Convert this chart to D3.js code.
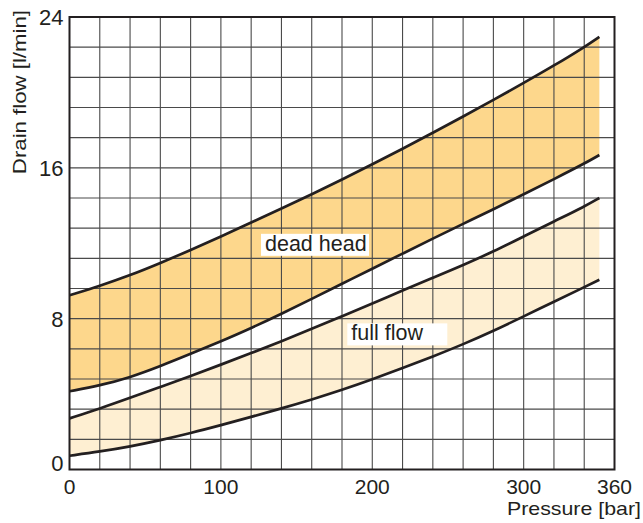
<!doctype html>
<html lang="en">
<head>
<meta charset="utf-8">
<title>Drain flow</title>
<script src="https://d3js.org/d3.v7.min.js"></script>
<style>
  body { margin: 0; background: #fff; }
  svg { display: block; }
  text { font-family: "Liberation Sans", Arial, sans-serif; fill: #231f20; }
</style>
</head>
<body>
<svg id="chart" width="643" height="523"></svg>
<script>
// values (pressure in bar, flow in l/min)
const pressure       = [0, 20, 40, 60, 80, 100, 120, 140, 160, 180, 200, 220, 240, 260, 280, 300, 320, 340, 350];
const deadHeadUpper  = [9.24, 9.74, 10.3, 10.95, 11.64, 12.35, 13.1, 13.84, 14.6, 15.38, 16.19, 17.0, 17.86, 18.72, 19.6, 20.5, 21.42, 22.4, 22.95];
const deadHeadLower  = [4.15, 4.45, 4.88, 5.48, 6.13, 6.8, 7.5, 8.26, 9.05, 9.85, 10.65, 11.45, 12.25, 13.03, 13.8, 14.6, 15.4, 16.22, 16.68];
const fullFlowUpper  = [2.71, 3.23, 3.8, 4.38, 4.96, 5.56, 6.17, 6.8, 7.46, 8.13, 8.8, 9.5, 10.17, 10.84, 11.56, 12.36, 13.16, 13.94, 14.4];
const fullFlowLower  = [0.73, 0.95, 1.22, 1.55, 1.93, 2.35, 2.79, 3.24, 3.71, 4.22, 4.78, 5.38, 5.99, 6.64, 7.35, 8.12, 8.9, 9.67, 10.06];
const xTicks = [0, 100, 200, 300, 360];
const yTicks = [0, 8, 16, 24];

const svg = d3.select("#chart");
const x = d3.scaleLinear().domain([0, 360]).range([69.5, 614.5]);
const y = d3.scaleLinear().domain([0, 24]).range([469.5, 17]);

function band(upper, lower){
  return pressure.map((p, i) => ({p: p, hi: upper[i], lo: lower[i]}));
}
const deadHead = band(deadHeadUpper, deadHeadLower);
const fullFlow = band(fullFlowUpper, fullFlowLower);

const area = d3.area().x(d => x(d.p)).y0(d => y(d.lo)).y1(d => y(d.hi)).curve(d3.curveBasis);
svg.append("path").attr("d", area(fullFlow)).attr("fill", "#feefd2");
svg.append("path").attr("d", area(deadHead)).attr("fill", "#fdd78c");

// grid: every 20 bar and every 1.6 l/min
const grid = svg.append("g").attr("stroke", "#4a4a4a").attr("stroke-width", 1.1);
d3.range(20, 360, 20).forEach(v => {
  grid.append("line").attr("x1", x(v)).attr("x2", x(v)).attr("y1", y(0)).attr("y2", y(24));
});
d3.range(1, 15).forEach(i => {
  grid.append("line").attr("x1", x(0)).attr("x2", x(360)).attr("y1", y(i * 1.6)).attr("y2", y(i * 1.6));
});

// frame
svg.append("rect").attr("x", x(0)).attr("y", y(24)).attr("width", x(360) - x(0)).attr("height", y(0) - y(24))
  .attr("fill", "none").attr("stroke", "#231f20").attr("stroke-width", 2);

// curves
const line = key => d3.line().x(d => x(d.p)).y(d => y(d[key])).curve(d3.curveBasis);
[[deadHead, "hi"], [deadHead, "lo"], [fullFlow, "hi"], [fullFlow, "lo"]].forEach(c => {
  svg.append("path").attr("d", line(c[1])(c[0])).attr("fill", "none")
    .attr("stroke", "#231f20").attr("stroke-width", 2.7);
});

// band labels
function tag(px, val, label, w){
  svg.append("rect").attr("x", x(px)).attr("y", y(val)).attr("width", w).attr("height", 22).attr("fill", "#fff");
  svg.append("text").attr("x", x(px) + 4).attr("y", y(val) + 17).attr("font-size", 21.5).text(label);
}
tag(126.5, 12.5, "dead head", 108);
tag(183.5, 7.75, "full flow", 100);

// tick labels
svg.selectAll(".ytick").data(yTicks).enter().append("text")
  .attr("x", x(0) - 6).attr("y", d => y(d) + (d === 0 ? 1 : 8))
  .attr("text-anchor", "end").attr("font-size", 22).text(d => d);
svg.selectAll(".xtick").data(xTicks).enter().append("text")
  .attr("x", d => x(d)).attr("y", y(0) + 24)
  .attr("text-anchor", "middle").attr("font-size", 21).text(d => d);

// axis titles
svg.append("text").attr("transform", "translate(641,515) scale(1.22,1)").attr("text-anchor", "end")
  .attr("font-size", 17.5).text("Pressure [bar]");
svg.append("text").attr("transform", "translate(26,10) rotate(-90) scale(1.17,1)").attr("text-anchor", "end")
  .attr("font-size", 19).text("Drain flow [l/min]");
</script>
</body>
</html>
